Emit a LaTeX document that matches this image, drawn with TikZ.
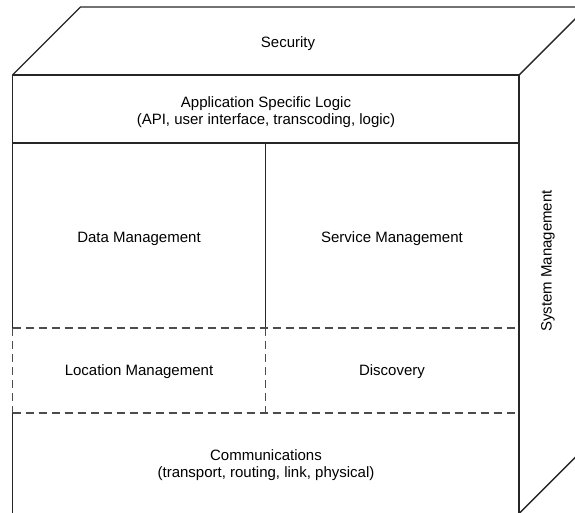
\documentclass[tikz,border=0pt]{standalone}
\usepackage{fontspec}
\setmainfont{Liberation Sans}
\begin{document}
\begin{tikzpicture}[x=1pt,y=-1pt,
  solidline/.style={line width=1.4pt, black!85, line join=miter},
  dashline/.style={line width=1.4pt, black!70, dash pattern=on 8pt off 5pt},
  lbl/.style={font=\fontsize{15}{17}\selectfont, align=center, inner sep=0pt}]
\useasboundingbox (0,0) rectangle (575,512);
\clip (0,0) rectangle (575,512);

% corners of the front face and the receding depth
\coordinate (FTL) at (12.5,75);
\coordinate (FTR) at (519,75);
\coordinate (FBL) at (12.5,513.5);
\coordinate (FBR) at (519,513.5);
\coordinate (BTL) at (80.5,7);
\coordinate (BTR) at (587,7);
\coordinate (BBR) at (587,445.5);

% band boundaries on the front face
\coordinate (AL) at (12.5,143);   \coordinate (AR) at (519,143);
\coordinate (DL) at (12.5,328);   \coordinate (DR) at (519,328);
\coordinate (EL) at (12.5,413);   \coordinate (ER) at (519,413);
\coordinate (MA) at (265.5,143);
\coordinate (MD) at (265.5,328);
\coordinate (ME) at (265.5,413);

% top and side faces
\draw[solidline] (FTL) -- (BTL) -- (BTR) -- (BBR) -- (FBR);
\draw[solidline] (FTR) -- (BTR);

% front face outline
\draw[solidline] (FTL) -- (FTR) -- (FBR) -- (FBL) -- (EL);
\draw[solidline] (FTL) -- (DL);
\draw[dashline] (DL) -- (EL);

% inner divisions
\draw[solidline] (AL) -- (AR);
\draw[solidline] (MA) -- (MD);
\draw[dashline] (DL) -- (DR);
\draw[dashline] (EL) -- (ER);
\draw[dashline] (MD) -- (ME);

% labels
\node[lbl] (sec) at (288,44) {Security};
\node[lbl] (app) at (266,112) {Application Specific Logic\\(API, user interface, transcoding, logic)};
\node[lbl] (data) at (139,239) {Data Management};
\node[lbl] (serv) at (392,239) {Service Management};
\node[lbl] (loc) at (139,372) {Location Management};
\node[lbl] (disc) at (392,372) {Discovery};
\node[lbl] (comm) at (266,465) {Communications\\(transport, routing, link, physical)};
\node[lbl, rotate=90] (sys) at (548,261) {System Management};
\end{tikzpicture}
\end{document}
